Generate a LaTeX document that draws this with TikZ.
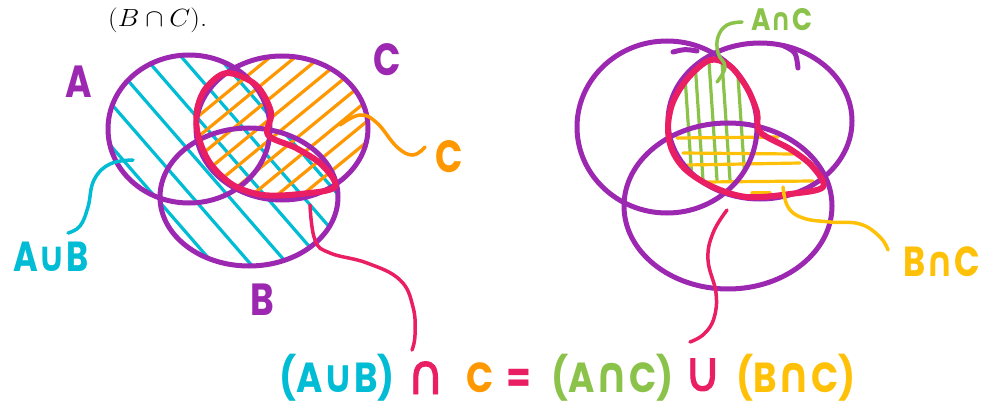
\documentclass[tikz,border=0pt]{standalone}
\usepackage{graphicx}
\usepackage{fontspec}
\newfontfamily\hand[FakeStretch=0.8]{Poppins}
\newfontfamily\handeq[FakeStretch=0.85]{Poppins}
\newfontfamily\symf[FakeStretch=0.85]{DejaVu Sans}
\newfontfamily\symfw[FakeStretch=0.9,FakeBold=1.6]{DejaVu Sans}
\newcommand\hcap{{\symf ∩}}
\newcommand\hcup{{\symf ∪}}
\newcommand\hcapq{\scalebox{1.2}{\symf ∩}}
\newcommand\hcupq{\scalebox{1.1}{\symf ∪}}
\definecolor{vpurple}{HTML}{9C27B0}
\definecolor{vcyan}{HTML}{00BCD4}
\definecolor{vorange}{HTML}{FF9800}
\definecolor{vred}{HTML}{E91E63}
\definecolor{vgreen}{HTML}{8BC34A}
\definecolor{vyellow}{HTML}{FFC107}
\tikzset{
  circ/.style={draw=vpurple, line width=5pt},
  redline/.style={draw=vred, line width=6pt, line join=round, line cap=round},
  hatch/.style={line width=3.2pt, line cap=round},
  conn/.style={line width=3.5pt, line cap=round},
  lbl/.style={inner sep=0pt, font=\hand\bfseries\fontsize{45}{45}\selectfont},
  eqn/.style={inner sep=0pt, anchor=base west, font=\handeq\bfseries\fontsize{42}{42}\selectfont},
  eqsym/.style={inner sep=0pt, anchor=base west, font=\symfw\fontsize{56}{56}\selectfont},
}
\begin{document}
\begin{tikzpicture}[x=1pt,y=-1pt]
\fill[white] (0,0) rectangle (987,406);
\useasboundingbox (0,0) rectangle (987,406);

% top text
\node[anchor=base west, inner sep=0pt, xscale=1.09, font=\fontsize{26}{30}\selectfont] (toptext) at (108,27) {$(B\cap C)$.};

% ================= left diagram =================
% cyan hatching in A union B
\begin{scope}
  \clip (189,129) ellipse [x radius=81pt, y radius=74pt]
        (249,197) ellipse [x radius=89pt, y radius=69pt];
  \foreach \i in {-5,...,5}
    \draw[hatch, vcyan] ({245+37*\i-140},{130-161}) -- ++(280,322);
\end{scope}
% orange hatching in C
\begin{scope}
  \clip (282,128) ellipse [x radius=86pt, y radius=72pt];
  \foreach \i in {-5,...,5}
    \draw[hatch, vorange] ({257+25*\i-120},{130+98}) -- ++(240,-197);
\end{scope}
% circles
\draw[circ] (189,129) ellipse [x radius=81pt, y radius=74pt];
\draw[circ] (282,128) ellipse [x radius=86pt, y radius=72pt];
\draw[circ] (249,197) ellipse [x radius=89pt, y radius=69pt];
% red outline of (A u B) n C
\draw[redline] plot[smooth cycle, tension=0.55] coordinates {
  (227,73) (206,88) (197,110) (198,135) (210,163) (233,185) (263,195)
  (300,194) (335,187) (322,165) (296,148) (268,135) (271,112) (256,85)};

% labels
\node[lbl, text=vpurple] (labA) at (79,82) {A};
\node[lbl, text=vpurple] (labC) at (387,60) {C};
\node[lbl, text=vpurple] (labB) at (262,300) {B};
\node[lbl, text=vorange] (labCo) at (449,157) {C};
\node[lbl, anchor=base west, text=vcyan, font=\hand\bfseries\fontsize{42}{42}\selectfont] (labAUB) at (13,271) {A\hcup B};

% connectors
\coordinate (cyS) at (133,160);
\coordinate (cyE) at (68,233);
\draw[conn, vcyan] plot[smooth, tension=0.7] coordinates {(cyS) (110,164) (94,180) (88,207) (80,226) (cyE)};
\coordinate (orS) at (340,125);
\coordinate (orE) at (425,147);
\draw[conn, vorange] plot[smooth, tension=0.7] coordinates {(orS) (360,115) (377,123) (397,147) (413,155) (orE)};
\coordinate (rdS) at (310,205);
\coordinate (rdE) at (412,350);
\draw[conn, vred] plot[smooth, tension=0.7] coordinates {(rdS) (315,240) (330,253) (367,263) (400,280) (413,307) (415,335) (rdE)};

% ================= right diagram =================
% green hatching in A n C
\begin{scope}
  \clip (667,127) ellipse [x radius=90pt, y radius=86pt];
  \clip (760,121) ellipse [x radius=92pt, y radius=78pt];
  \foreach \x in {687,698,712,725,740}
    \draw[hatch, vgreen] (\x-3,62) -- (\x+5,180);
\end{scope}
% yellow hatching in B n C
\draw[hatch, vyellow] (677,138) -- (778,137);
\draw[hatch, vyellow] (683,153) -- (793,154);
\draw[hatch, vyellow] (687,165) -- (800,163);
\draw[hatch, vyellow] (705,182) -- (813,181);
\draw[hatch, vyellow] (752,193) -- (770,193);
% circles
\draw[circ] (667,127) ellipse [x radius=90pt, y radius=86pt];
\draw[circ] (760,121) ellipse [x radius=92pt, y radius=78pt];
\draw[circ] (728,206) ellipse [x radius=104pt, y radius=83pt];
\draw[circ, line cap=round] (673,52) .. controls (685,49) .. (697,51);
\draw[circ, line cap=round] (784,46) .. controls (796,52) .. (798,68);
% red outline
\draw[redline] plot[smooth cycle, tension=0.55] coordinates {
  (710,60) (688,78) (673,102) (668,127) (672,150) (686,170) (713,187) (747,197)
  (790,194) (823,187) (812,166) (790,149) (760,132) (757,112) (747,88) (730,66)};

% labels
\node[lbl, anchor=base west, text=vgreen, font=\handeq\bfseries\fontsize{31}{31}\selectfont] (labAC) at (751,31) {A\hcap C};
\node[lbl, anchor=base west, text=vyellow, font=\hand\bfseries\fontsize{42}{42}\selectfont] (labBC) at (903,276) {B\hcap C};

% connectors
\coordinate (grS) at (742,22);
\coordinate (grE) at (717,82);
\draw[conn, vgreen] plot[smooth, tension=0.7] coordinates {(grS) (727,25) (718,37) (718,53) (725,67) (grE)};
\coordinate (ylS) at (783,187);
\coordinate (ylE) at (888,250);
\draw[conn, vyellow] plot[smooth, tension=0.7] coordinates {(ylS) (788,207) (803,218) (830,222) (860,224) (880,237) (ylE)};
\coordinate (rrS) at (727,210);
\coordinate (rrE) at (690,342);
\draw[conn, vred] plot[smooth, tension=0.7] coordinates {(rrS) (713,233) (708,260) (716,293) (714,318) (704,334) (rrE)};

% ================= equation =================
\node[eqn, text=vcyan] (e1) at (279,392) {(A\hcupq B)};
\node[eqsym, text=vred] (e2) at (407,394) {∩};
\node[eqn, text=vorange] (e3) at (466,392) {C};
\node[eqn, text=vred] (e4) at (506,392) {=};
\node[eqn, text=vgreen] (e5) at (551,392) {(A\hcapq C)};
\node[eqsym, text=vred] (e6) at (684,391) {∪};
\node[eqn, text=vyellow] (e7) at (736,392) {(B\hcapq C)};
\end{tikzpicture}
\end{document}
